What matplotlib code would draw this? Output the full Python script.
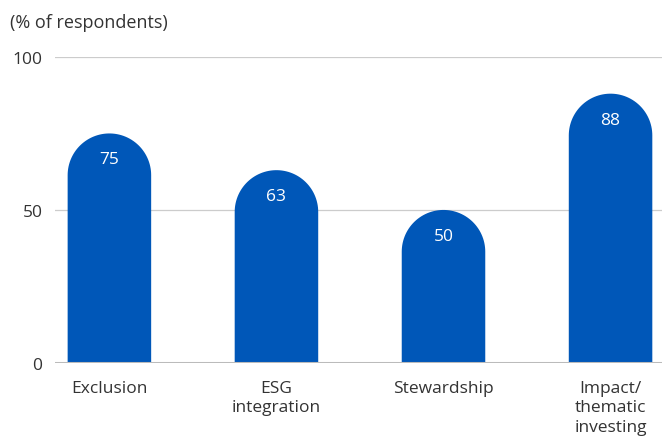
import numpy as np
import matplotlib.pyplot as plt
from matplotlib.patches import Polygon

categories = ["Exclusion", "ESG\nintegration", "Stewardship", "Impact/\nthematic\ninvesting"]
values = [75, 63, 50, 88]
yticks = [0, 50, 100]

bar_color = "#0057B8"
text_color = "#333333"

plt.rcParams['font.family'] = ['Open Sans', 'DejaVu Sans']

fig = plt.figure(figsize=(6.62, 4.39), dpi=100)
ax = fig.add_axes([0.083, 0.171, 0.917, 0.697])
ax.set_xlim(-0.326, 3.308)
ax.set_ylim(0, 100)

# pixel scale so the caps come out as half circles
ax_w = 0.917 * 662
ax_h = 0.697 * 439
px_x = ax_w / (3.308 + 0.326)
px_y = ax_h / 100

bw = 0.5
r_y = (bw / 2) * px_x / px_y
t = np.linspace(np.pi, 0, 60)

for i, v in enumerate(values):
    xs = np.concatenate([[i - bw / 2], i + bw / 2 * np.cos(t), [i + bw / 2]])
    ys = np.concatenate([[0], v - r_y + r_y * np.sin(t), [0]])
    ax.add_patch(Polygon(np.column_stack([xs, ys]), closed=True,
                         facecolor=bar_color, edgecolor='none', zorder=3))
    ax.text(i, v - 26 / px_y, str(v), ha='center', va='center', color='white',
            fontsize=12.5, zorder=4)

for y in yticks[1:]:
    ax.axhline(y, color='#cccccc', lw=0.9, zorder=1)
ax.axhline(0, color='#bbbbbb', lw=2.2, zorder=5)

for s in ax.spines.values():
    s.set_visible(False)

ax.set_yticks(yticks)
ax.set_yticklabels([str(t) for t in yticks], fontsize=12.5, color=text_color)
ax.set_xticks(range(len(categories)))
ax.set_xticklabels(categories, fontsize=12.5, color=text_color, linespacing=1.3)
ax.tick_params(axis='both', length=0)
ax.tick_params(axis='y', pad=9)
ax.tick_params(axis='x', pad=12)

fig.text(10 / 662, 1 - 23 / 439, "(% of respondents)", fontsize=13,
         color=text_color, va='center', ha='left')

fig.savefig("out.png", dpi=100)
